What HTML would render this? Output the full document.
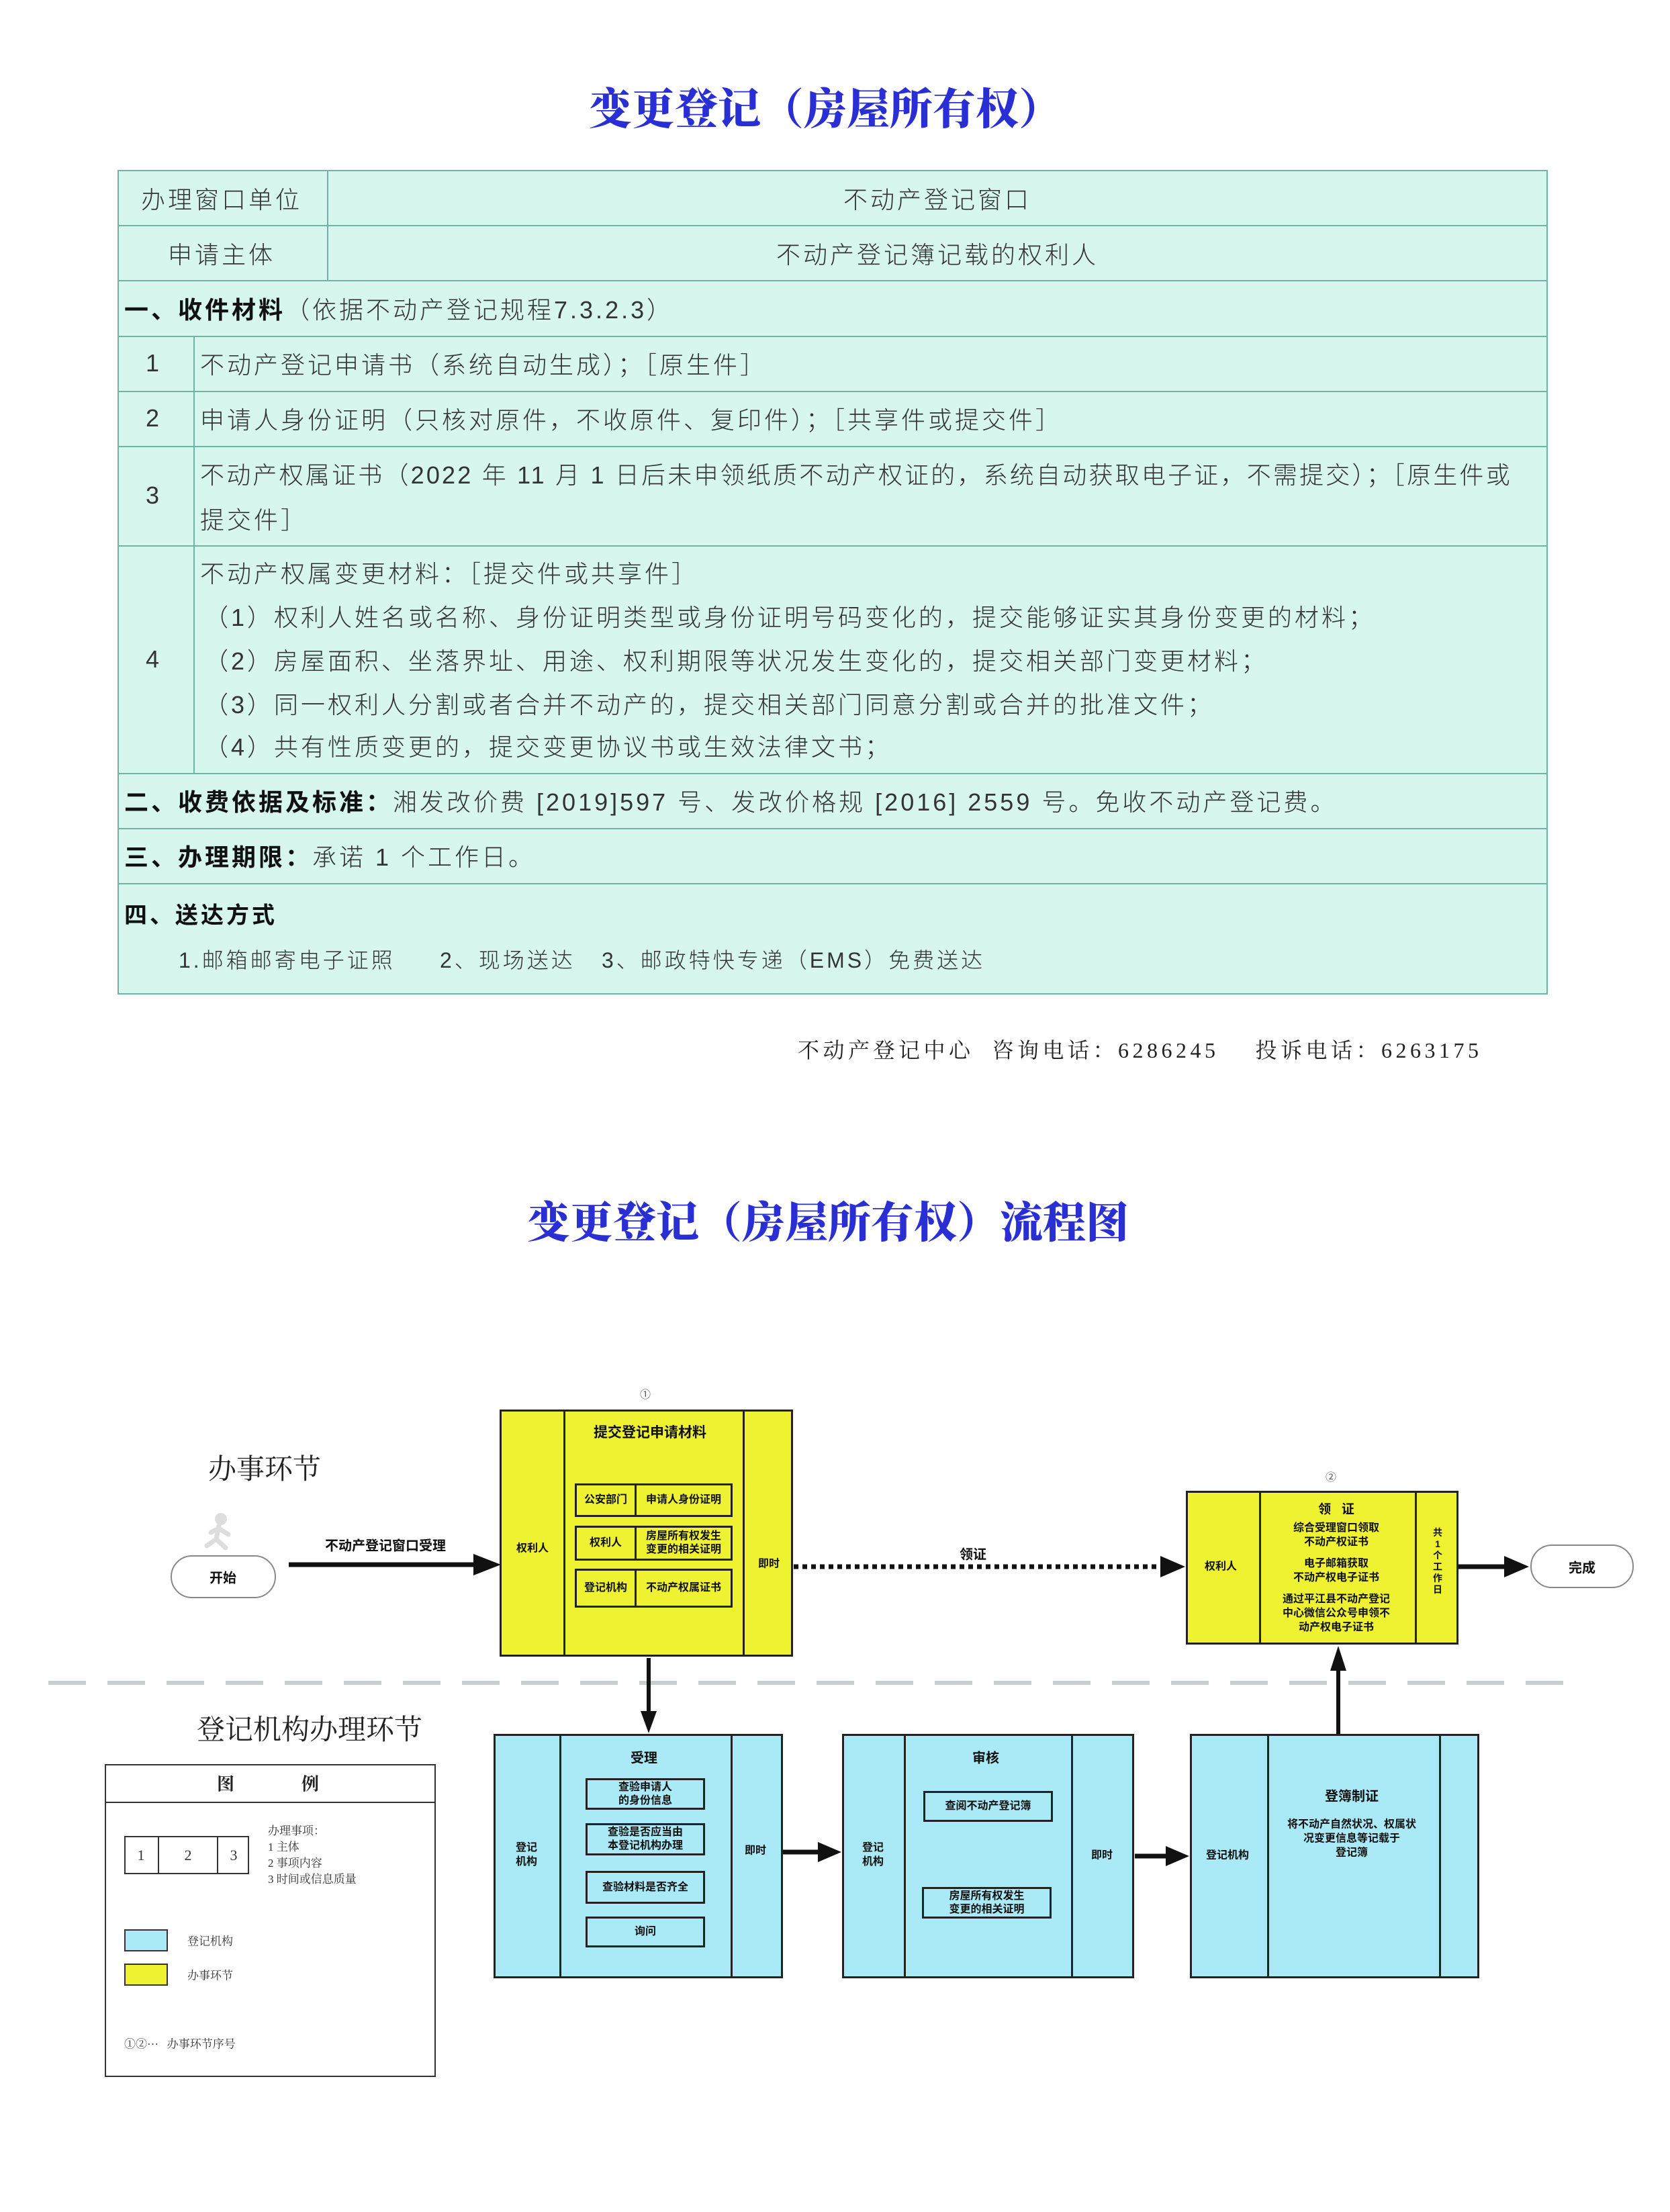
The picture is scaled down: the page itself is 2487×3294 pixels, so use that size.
<!DOCTYPE html>
<html><head><meta charset="utf-8">
<style>
*{margin:0;padding:0;box-sizing:border-box}
body{width:2487px;height:3294px;background:#fff;position:relative;overflow:hidden;font-family:"Liberation Sans","Noto Sans CJK SC",sans-serif;color:#333}
.a{position:absolute;white-space:nowrap}
.c{position:absolute;white-space:nowrap;transform:translate(-50%,-50%);text-align:center}
.l{position:absolute;white-space:nowrap;transform:translateY(-50%)}
.hl{position:absolute;height:2px;background:#6fb5a5}
.vl{position:absolute;width:2px;background:#6fb5a5}
.tt{font-size:36px;color:#333;font-weight:300;letter-spacing:4px}
.b{font-weight:700;color:#111}
.box{position:absolute;border:3px solid #222}
.y{background:#eef230}
.cy{background:#aaeaf6}
.vd{position:absolute;top:0;bottom:0;width:3px;background:#222}
.fs{font-size:16px;font-weight:700;color:#111;line-height:21px}
.ib{position:absolute;border:3px solid #222;font-size:16px;font-weight:700;color:#111;display:flex;align-items:center;justify-content:center;text-align:center;line-height:20px}
.ser{font-family:"Liberation Serif","Noto Serif CJK SC",serif}
</style></head><body>

<div class="c ser" style="left:1229px;top:158px;font-size:64px;font-weight:900;color:#2a2fd4">变更登记（房屋所有权）</div>

<!-- table -->
<div class="a" style="left:175px;top:253px;width:2130px;height:1228px;background:#d6f6ee;border:2px solid #6fb5a5"></div>
<div class="hl" style="left:175px;width:2130px;top:335px"></div>
<div class="hl" style="left:175px;width:2130px;top:417px"></div>
<div class="hl" style="left:175px;width:2130px;top:500px"></div>
<div class="hl" style="left:175px;width:2130px;top:582px"></div>
<div class="hl" style="left:175px;width:2130px;top:664px"></div>
<div class="hl" style="left:175px;width:2130px;top:812px"></div>
<div class="hl" style="left:175px;width:2130px;top:1151px"></div>
<div class="hl" style="left:175px;width:2130px;top:1233px"></div>
<div class="hl" style="left:175px;width:2130px;top:1315px"></div>
<div class="vl" style="left:487px;top:253px;height:164px"></div>
<div class="vl" style="left:288px;top:500px;height:651px"></div>

<div class="c tt" style="left:330px;top:295px">办理窗口单位</div>
<div class="c tt" style="left:1396px;top:295px">不动产登记窗口</div>
<div class="c tt" style="left:330px;top:377px">申请主体</div>
<div class="c tt" style="left:1396px;top:377px">不动产登记簿记载的权利人</div>
<div class="l tt" style="left:185px;top:459px"><span class="b">一、收件材料</span>（依据不动产登记规程7.3.2.3）</div>
<div class="c tt" style="left:229px;top:541px">1</div>
<div class="l tt" style="left:298px;top:541px">不动产登记申请书（系统自动生成）；［原生件］</div>
<div class="c tt" style="left:229px;top:623px">2</div>
<div class="l tt" style="left:298px;top:623px">申请人身份证明（只核对原件，不收原件、复印件）；［共享件或提交件］</div>
<div class="c tt" style="left:229px;top:738px">3</div>
<div class="l tt" style="left:298px;top:705px;letter-spacing:3.2px">不动产权属证书（2022 年 11 月 1 日后未申领纸质不动产权证的，系统自动获取电子证，不需提交）；［原生件或</div>
<div class="l tt" style="left:298px;top:772px">提交件］</div>
<div class="c tt" style="left:229px;top:982px">4</div>
<div class="l tt" style="left:298px;top:852px">不动产权属变更材料：［提交件或共享件］</div>
<div class="l tt" style="left:304px;top:917px">（1）权利人姓名或名称、身份证明类型或身份证明号码变化的，提交能够证实其身份变更的材料；</div>
<div class="l tt" style="left:304px;top:982px">（2）房屋面积、坐落界址、用途、权利期限等状况发生变化的，提交相关部门变更材料；</div>
<div class="l tt" style="left:304px;top:1047px">（3）同一权利人分割或者合并不动产的，提交相关部门同意分割或合并的批准文件；</div>
<div class="l tt" style="left:304px;top:1110px">（4）共有性质变更的，提交变更协议书或生效法律文书；</div>
<div class="l tt" style="left:185px;top:1192px"><span class="b">二、收费依据及标准：</span>湘发改价费 [2019]597 号、发改价格规 [2016] 2559 号。免收不动产登记费。</div>
<div class="l tt" style="left:185px;top:1274px"><span class="b">三、办理期限：</span>承诺 1 个工作日。</div>
<div class="l tt b" style="left:185px;top:1360px;font-size:34px">四、送达方式</div>
<div class="l tt" style="left:266px;top:1428px;font-size:32px">1.邮箱邮寄电子证照</div>
<div class="l tt" style="left:655px;top:1428px;font-size:32px">2、现场送达</div>
<div class="l tt" style="left:896px;top:1428px;font-size:32px">3、邮政特快专递（EMS）免费送达</div>

<div class="l ser" style="left:1188px;top:1562px;font-size:32px;color:#222;letter-spacing:5.5px">不动产登记中心&nbsp;&nbsp;咨询电话：6286245&nbsp;&nbsp;&nbsp;&nbsp;投诉电话：6263175</div>

<div class="c ser" style="left:1233px;top:1816px;font-size:64px;font-weight:900;color:#2a2fd4">变更登记（房屋所有权）流程图</div>

<!-- flow -->
<div class="a ser" style="left:310px;top:2155px;font-size:42px;color:#222">办事环节</div>
<div class="a ser" style="left:293px;top:2543px;font-size:42px;color:#222">登记机构办理环节</div>

<svg class="a" style="left:0;top:0" width="2487" height="3294">
<line x1="72" y1="2506" x2="2330" y2="2506" stroke="#c8cdd0" stroke-width="6" stroke-dasharray="56,32"/>
<line x1="430" y1="2330" x2="710" y2="2330" stroke="#111" stroke-width="7"/>
<polygon points="705,2314 746,2330 705,2346" fill="#111"/>
<line x1="1182" y1="2333" x2="1725" y2="2333" stroke="#111" stroke-width="7" stroke-dasharray="7,6"/>
<polygon points="1728,2317 1765,2333 1728,2349" fill="#111"/>
<line x1="2170" y1="2333" x2="2242" y2="2333" stroke="#111" stroke-width="7"/>
<polygon points="2240,2317 2277,2333 2240,2349" fill="#111"/>
<line x1="966" y1="2469" x2="966" y2="2550" stroke="#111" stroke-width="6"/>
<polygon points="954,2548 966,2581 978,2548" fill="#111"/>
<line x1="1165" y1="2758" x2="1222" y2="2758" stroke="#111" stroke-width="7"/>
<polygon points="1218,2743 1253,2758 1218,2773" fill="#111"/>
<line x1="1690" y1="2764" x2="1740" y2="2764" stroke="#111" stroke-width="7"/>
<polygon points="1736,2749 1771,2764 1736,2779" fill="#111"/>
<line x1="1993" y1="2582" x2="1993" y2="2485" stroke="#111" stroke-width="6"/>
<polygon points="1981,2488 1993,2451 2005,2488" fill="#111"/>
<rect x="255" y="2317" width="155" height="62" rx="31" fill="#fff" stroke="#888" stroke-width="2"/>
<rect x="2280" y="2301" width="152" height="63" rx="31" fill="#fff" stroke="#888" stroke-width="2"/>
<circle cx="329" cy="2262" r="9" fill="#ddd"/>
<path d="M326,2272 L322,2292 L308,2302 M322,2292 L336,2305 M326,2276 L340,2285 M326,2276 L314,2282" stroke="#ddd" stroke-width="7" fill="none" stroke-linecap="round"/>
</svg>
<div class="c" style="left:332px;top:2348px;font-size:20px;font-weight:700;color:#111">开始</div>
<div class="c" style="left:2356px;top:2333px;font-size:20px;font-weight:700;color:#111">完成</div>
<div class="c" style="left:574px;top:2300px;font-size:20px;font-weight:700;color:#111">不动产登记窗口受理</div>
<div class="c" style="left:1449px;top:2313px;font-size:20px;font-weight:700;color:#111">领证</div>

<!-- box1 -->
<div class="c" style="left:961px;top:2075px;font-size:16px;color:#555">①</div>
<div class="box y" style="left:744px;top:2099px;width:437px;height:368px">
<div class="vd" style="left:92px"></div><div class="vd" style="left:359px"></div>
</div>
<div class="c" style="left:968px;top:2132px;font-size:21px;font-weight:700;color:#111">提交登记申请材料</div>
<div class="c fs" style="left:793px;top:2306px">权利人</div>
<div class="c fs" style="left:1145px;top:2329px">即时</div>
<div class="ib" style="left:856px;top:2209px;width:92px;height:50px">公安部门</div>
<div class="ib" style="left:945px;top:2209px;width:146px;height:50px">申请人身份证明</div>
<div class="ib" style="left:856px;top:2272px;width:92px;height:52px">权利人</div>
<div class="ib" style="left:945px;top:2272px;width:146px;height:52px">房屋所有权发生<br>变更的相关证明</div>
<div class="ib" style="left:856px;top:2336px;width:92px;height:58px">登记机构</div>
<div class="ib" style="left:945px;top:2336px;width:146px;height:58px">不动产权属证书</div>

<!-- box2 -->
<div class="c" style="left:1982px;top:2198px;font-size:16px;color:#555">②</div>
<div class="box y" style="left:1766px;top:2220px;width:406px;height:229px">
<div class="vd" style="left:106px"></div><div class="vd" style="left:338px"></div>
</div>
<div class="c fs" style="left:1818px;top:2333px">权利人</div>
<div class="c fs" style="left:1990px;top:2248px;font-size:19px">领&nbsp;&nbsp;&nbsp;证</div>
<div class="a fs" style="left:1880px;top:2265px;width:220px;text-align:center;white-space:normal">综合受理窗口领取<br>不动产权证书<div style="height:11px"></div>电子邮箱获取<br>不动产权电子证书<div style="height:11px"></div>通过平江县不动产登记<br>中心微信公众号申领不<br>动产权电子证书</div>
<div class="c fs" style="left:2141px;top:2325px;white-space:normal;width:20px;font-size:14px;line-height:17px">共1个工作日</div>

<!-- cyan A -->
<div class="box cy" style="left:735px;top:2582px;width:431px;height:364px">
<div class="vd" style="left:95px"></div><div class="vd" style="left:350px"></div>
</div>
<div class="c" style="left:959px;top:2616px;font-size:20px;font-weight:700;color:#111">受理</div>
<div class="c fs" style="left:784px;top:2762px">登记<br>机构</div>
<div class="c fs" style="left:1125px;top:2756px">即时</div>
<div class="ib" style="left:872px;top:2648px;width:178px;height:47px">查验申请人<br>的身份信息</div>
<div class="ib" style="left:872px;top:2715px;width:178px;height:48px">查验是否应当由<br>本登记机构办理</div>
<div class="ib" style="left:872px;top:2786px;width:178px;height:49px">查验材料是否齐全</div>
<div class="ib" style="left:872px;top:2854px;width:178px;height:46px">询问</div>

<!-- cyan B -->
<div class="box cy" style="left:1254px;top:2582px;width:435px;height:364px">
<div class="vd" style="left:89px"></div><div class="vd" style="left:338px"></div>
</div>
<div class="c" style="left:1468px;top:2616px;font-size:20px;font-weight:700;color:#111">审核</div>
<div class="c fs" style="left:1300px;top:2762px">登记<br>机构</div>
<div class="c fs" style="left:1641px;top:2763px">即时</div>
<div class="ib" style="left:1375px;top:2667px;width:193px;height:46px">查阅不动产登记簿</div>
<div class="ib" style="left:1373px;top:2810px;width:193px;height:47px">房屋所有权发生<br>变更的相关证明</div>

<!-- cyan C -->
<div class="box cy" style="left:1772px;top:2582px;width:431px;height:364px">
<div class="vd" style="left:112px"></div><div class="vd" style="left:368px"></div>
</div>
<div class="c" style="left:2013px;top:2673px;font-size:20px;font-weight:700;color:#111">登簿制证</div>
<div class="c fs" style="left:2013px;top:2738px">将不动产自然状况、权属状<br>况变更信息等记载于<br>登记簿</div>
<div class="c fs" style="left:1828px;top:2763px">登记机构</div>

<!-- legend -->
<div class="a" style="left:156px;top:2627px;width:493px;height:466px;border:2px solid #333"></div>
<div class="a" style="left:156px;top:2683px;width:493px;height:2px;background:#333"></div>
<div class="c ser" style="left:336px;top:2655px;font-size:26px;font-weight:700;color:#222">图</div>
<div class="c ser" style="left:462px;top:2655px;font-size:26px;font-weight:700;color:#222">例</div>
<div class="a" style="left:185px;top:2734px;width:186px;height:57px;border:2px solid #333"></div>
<div class="a" style="left:235px;top:2734px;width:2px;height:57px;background:#333"></div>
<div class="a" style="left:323px;top:2734px;width:2px;height:57px;background:#333"></div>
<div class="c ser" style="left:210px;top:2763px;font-size:22px">1</div>
<div class="c ser" style="left:280px;top:2763px;font-size:22px">2</div>
<div class="c ser" style="left:348px;top:2763px;font-size:22px">3</div>
<div class="a ser" style="left:399px;top:2715px;font-size:17px;line-height:24px;color:#333">办理事项：<br>1 主体<br>2 事项内容<br>3 时间或信息质量</div>
<div class="a cy" style="left:185px;top:2873px;width:65px;height:33px;border:2px solid #333"></div>
<div class="l ser" style="left:279px;top:2889px;font-size:17px">登记机构</div>
<div class="a y" style="left:185px;top:2924px;width:65px;height:33px;border:2px solid #333"></div>
<div class="l ser" style="left:279px;top:2940px;font-size:17px">办事环节</div>
<div class="l ser" style="left:185px;top:3042px;font-size:17px">①②···&nbsp;&nbsp;&nbsp;办事环节序号</div>
</body></html>
